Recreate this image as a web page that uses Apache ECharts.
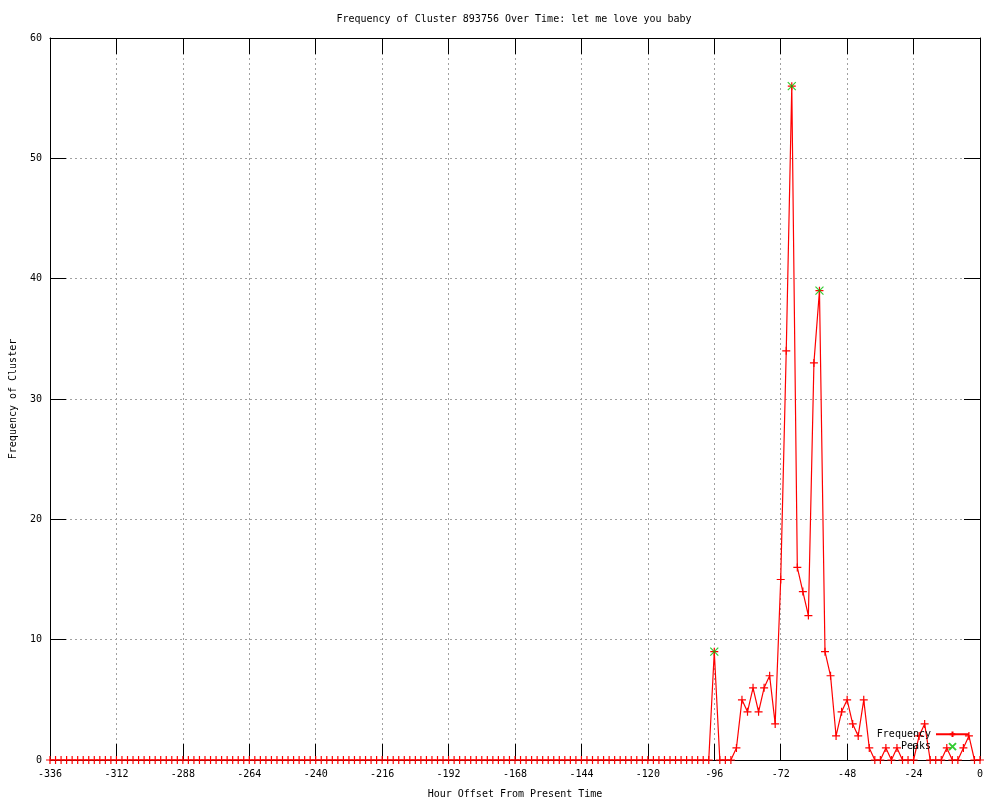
<!DOCTYPE html>
<html>
<head>
<meta charset="utf-8">
<script src="https://cdn.jsdelivr.net/npm/echarts@6/dist/echarts.min.js"></script>
<style>html,body{margin:0;padding:0;background:#fff;}#c{width:1000px;height:800px;}</style>
</head>
<body>
<div id="c"></div>
<script>
// Hour offsets: -336 .. 0, every 2 hours
var hourStart = -336, hourStep = 2;
// Frequency per 2-hour slot (169 values)
var frequency = [
  0,0,0,0,0,0,0,0,0,0, 0,0,0,0,0,0,0,0,0,0,
  0,0,0,0,0,0,0,0,0,0, 0,0,0,0,0,0,0,0,0,0,
  0,0,0,0,0,0,0,0,0,0, 0,0,0,0,0,0,0,0,0,0,
  0,0,0,0,0,0,0,0,0,0, 0,0,0,0,0,0,0,0,0,0,
  0,0,0,0,0,0,0,0,0,0, 0,0,0,0,0,0,0,0,0,0,
  0,0,0,0,0,0,0,0,0,0, 0,0,0,0,0,0,0,0,0,0,
  9,0,0,0,1,5,4,6,4,6,7,3,15,34,56,16,14,12,33,39,
  9,7,2,4,5,3,2,5,1,0,0,1,0,1,0,0,0,2,3,0,
  0,0,1,0,0,1,2,0,0
];
var peakHours = [-96, -68, -58];
var peakValues = [9, 56, 39];
var xTicks = {min: -336, max: 0, interval: 24};
var yTicks = {min: 0, max: 60, interval: 10};

var hours = frequency.map(function (v, i) { return hourStart + i * hourStep; });
var freqData = frequency.map(function (v, i) { return [hours[i], v]; });
var peakData = peakHours.map(function (h, i) { return [h, peakValues[i]]; });

var FONT = 'DejaVu Sans Mono';
var plusPath = 'path://M0,5 L10,5 M5,0 L5,10';
var crossPath = 'path://M0,0 L10,10 M10,0 L0,10';
var gridLine = {show: true, lineStyle: {color: '#a0a0a0', type: [2, 3], width: 1}};
var tick = {show: true, inside: true, length: 16, lineStyle: {color: '#000', width: 1}};

var chart = echarts.init(document.getElementById('c'), null, {renderer: 'canvas'});
chart.setOption({
  animation: false,
  backgroundColor: '#fff',
  title: {
    text: 'Frequency of Cluster 893756 Over Time: let me love you baby',
    left: 509, top: 9, textAlign: 'center',
    textStyle: {fontFamily: FONT, fontSize: 10, fontWeight: 'normal', color: '#000'}
  },
  grid: {left: 50, right: 20, top: 38, bottom: 40, containLabel: false, outerBoundsMode: 'none'},
  legend: {
    orient: 'vertical', right: 25, top: 724, align: 'right',
    itemWidth: 33, itemHeight: 7, itemGap: 1,
    textStyle: {fontFamily: FONT, fontSize: 10, color: '#000'},
    data: ['Frequency', 'Peaks']
  },
  xAxis: [{
    type: 'value', min: xTicks.min, max: xTicks.max, interval: xTicks.interval,
    name: 'Hour Offset From Present Time', nameLocation: 'middle', nameGap: 29,
    nameTextStyle: {fontFamily: FONT, fontSize: 10, color: '#000'},
    axisLine: {show: true, lineStyle: {color: '#000', width: 1}},
    axisTick: tick,
    axisLabel: {fontFamily: FONT, fontSize: 10, color: '#000', margin: 9},
    splitLine: gridLine
  }, {
    type: 'value', position: 'top', min: xTicks.min, max: xTicks.max, interval: xTicks.interval,
    axisLine: {show: true, onZero: false, lineStyle: {color: '#000', width: 1}},
    axisTick: tick, axisLabel: {show: false}, splitLine: {show: false}
  }],
  yAxis: [{
    type: 'value', min: yTicks.min, max: yTicks.max, interval: yTicks.interval,
    name: 'Frequency of Cluster', nameLocation: 'middle', nameGap: 32, nameRotate: 90,
    nameTextStyle: {fontFamily: FONT, fontSize: 10, color: '#000'},
    axisLine: {show: true, onZero: false, lineStyle: {color: '#000', width: 1}},
    axisTick: tick,
    axisLabel: {fontFamily: FONT, fontSize: 10, color: '#000', margin: 8},
    splitLine: gridLine
  }, {
    type: 'value', position: 'right', min: yTicks.min, max: yTicks.max, interval: yTicks.interval,
    axisLine: {show: true, onZero: false, lineStyle: {color: '#000', width: 1}},
    axisTick: tick, axisLabel: {show: false}, splitLine: {show: false}
  }],
  series: [{
    name: 'Frequency', type: 'line', data: freqData,
    xAxisIndex: 0, yAxisIndex: 0,
    symbol: plusPath, symbolSize: 8, showAllSymbol: true,
    lineStyle: {color: '#ff0000', width: 1.2},
    itemStyle: {color: 'none', borderColor: '#ff0000', borderWidth: 1.2},
    emphasis: {disabled: true}
  }, {
    name: 'Peaks', type: 'scatter', data: peakData,
    xAxisIndex: 0, yAxisIndex: 0,
    symbol: crossPath, symbolSize: 8,
    itemStyle: {color: 'none', borderColor: '#00c000', borderWidth: 1.2},
    emphasis: {disabled: true}, z: 3
  }]
});
</script>
</body>
</html>
